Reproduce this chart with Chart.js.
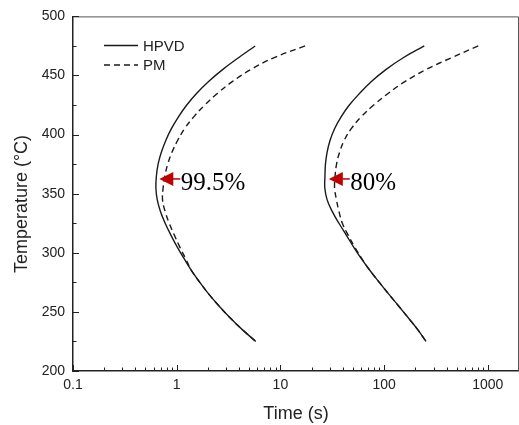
<!DOCTYPE html>
<html>
<head>
<meta charset="utf-8">
<script src="https://cdn.jsdelivr.net/npm/chart.js@4.4.0/dist/chart.umd.min.js"></script>
<style>
  body { margin: 0; background: #fff; }
</style>
</head>
<body>
<canvas id="chart" width="519" height="425"></canvas>
<script>
// temperature grid shared by all four curves (°C)
const temps = [475, 465, 455, 445, 435, 425, 415, 405, 395, 385, 375, 365, 355,
               345, 335, 325, 315, 305, 295, 285, 275, 265, 255, 245, 235, 225];

// times (s) at each temperature
const hpvdFast = [5.71, 3.94, 2.77, 2.03, 1.56, 1.25, 1.04, 0.889, 0.785, 0.711, 0.662, 0.637, 0.630,
                  0.649, 0.697, 0.774, 0.879, 1.01, 1.18, 1.39, 1.67, 2.04, 2.56, 3.27, 4.29, 5.79];
const pmFast   = [17.3, 8.63, 5.18, 3.46, 2.48, 1.86, 1.46, 1.19, 1.02, 0.90, 0.82, 0.769, 0.74,
                  0.73, 0.773, 0.847, 0.948, 1.07, 1.22, 1.39, 1.67, 2.04, 2.56, 3.27, 4.29, 5.79];
const hpvdSlow = [244, 153, 104, 75.5, 58.2, 46.2, 38.5, 33.3, 30.1, 28.2, 27.2, 26.9, 26.8,
                  28.2, 31.6, 36.7, 43.2, 50.7, 60.3, 73.1, 89.9, 111, 138, 171, 211, 254];
const pmSlow   = [809, 445, 253, 160, 110, 79.4, 60.0, 48.2, 41.2, 37.2, 34.8, 33.7, 33.3,
                  34.7, 36.7, 39.6, 45.0, 52.0, 61.0, 73.1, 89.9, 111, 138, 171, 211, 254];

const seriesNames = ['HPVD', 'PM'];
const xTickValues = [0.1, 1, 10, 100, 1000];
const xTickLabels = ['0.1', '1', '10', '100', '1000'];
const yTitle = 'Temperature (°C)';

// red arrow marks at the nose of each C-curve
const markTimes = [0.68, 29.3];
const markTemps = [362.5, 362.5];
const markLabels = ['99.5%', '80%'];

const sans = '"Liberation Sans", Arial, sans-serif';
const ink = '#1a1a1a';
const dash = [6, 4];

function pairs(times) {
    return times.map((t, i) => ({ x: t, y: temps[i] }));
}

function line(label, times, dashed) {
    return {
        label: label,
        data: pairs(times),
        showLine: true,
        pointRadius: 0,
        borderColor: ink,
        borderWidth: 1.4,
        borderDash: dashed ? dash : [],
        tension: 0.4,
        fill: false
    };
}

const extras = {
    id: 'extras',
    afterDraw(chart) {
        const ctx = chart.ctx;
        const a = chart.chartArea;
        const xs = chart.scales.x;
        const ys = chart.scales.y;
        ctx.save();

        // top and right frame
        ctx.strokeStyle = '#555';
        ctx.lineWidth = 1;
        ctx.beginPath();
        ctx.moveTo(a.left, a.top + 0.5);
        ctx.lineTo(a.right - 0.5, a.top + 0.5);
        ctx.lineTo(a.right - 0.5, a.bottom);
        ctx.stroke();

        // inward ticks
        ctx.strokeStyle = '#222';
        ctx.lineWidth = 1;
        ctx.beginPath();
        for (let v = 200; v <= 500; v += 25) {
            const y = Math.round(ys.getPixelForValue(v)) + 0.5;
            const len = v % 50 === 0 ? 6 : 3.5;
            ctx.moveTo(a.left, y);
            ctx.lineTo(a.left + len, y);
        }
        for (let d = 0.1; d < 2000; d *= 10) {
            for (let k = 1; k <= 9; k++) {
                const v = d * k;
                if (v > 2000) break;
                const x = Math.round(xs.getPixelForValue(v)) + 0.5;
                const len = k === 1 ? 6 : 3.5;
                ctx.moveTo(x, a.bottom);
                ctx.lineTo(x, a.bottom - len);
            }
        }
        ctx.stroke();

        // y axis title
        ctx.fillStyle = '#222';
        ctx.font = '18px ' + sans;
        ctx.textAlign = 'center';
        ctx.textBaseline = 'middle';
        ctx.translate(22.5, 204);
        ctx.rotate(-Math.PI / 2);
        ctx.fillText(yTitle, 0, 0);
        ctx.setTransform(1, 0, 0, 1, 0, 0);
        ctx.textAlign = 'left';

        // legend
        ctx.strokeStyle = ink;
        ctx.lineWidth = 1.4;
        ctx.font = '15px ' + sans;
        seriesNames.forEach((name, i) => {
            const y = 45.5 + i * 19.5;
            ctx.setLineDash(i === 1 ? dash : []);
            ctx.beginPath();
            ctx.moveTo(104, y);
            ctx.lineTo(138, y);
            ctx.stroke();
            ctx.fillText(name, 143, y + 1);
        });
        ctx.setLineDash([]);

        // arrows and percentages
        markTimes.forEach((t, i) => {
            const px = xs.getPixelForValue(t);
            const py = ys.getPixelForValue(markTemps[i]);
            ctx.fillStyle = '#c00000';
            ctx.beginPath();
            ctx.moveTo(px, py);
            ctx.lineTo(px + 14, py - 7);
            ctx.lineTo(px + 14, py + 7);
            ctx.closePath();
            ctx.fill();
            ctx.strokeStyle = '#c00000';
            ctx.lineWidth = 1.5;
            ctx.beginPath();
            ctx.moveTo(px + 13, py);
            ctx.lineTo(px + 21, py);
            ctx.stroke();
            ctx.fillStyle = '#000';
            ctx.font = '25px "Liberation Serif", "Times New Roman", serif';
            ctx.textBaseline = 'alphabetic';
            ctx.fillText(markLabels[i], px + 21.5, py + 11.5);
        });
        ctx.restore();
    }
};

new Chart(document.getElementById('chart'), {
    type: 'scatter',
    data: {
        datasets: [
            line('HPVD', hpvdFast, false),
            line('PM', pmFast, true),
            line('HPVD', hpvdSlow, false),
            line('PM', pmSlow, true)
        ]
    },
    options: {
        responsive: false,
        animation: false,
        layout: { padding: { top: 12, right: 0, left: 0, bottom: 0 } },
        plugins: { legend: { display: false }, tooltip: { enabled: false } },
        scales: {
            x: {
                type: 'logarithmic',
                min: 0.1,
                max: 2000,
                afterBuildTicks: scale => { scale.ticks = xTickValues.map(v => ({ value: v })); },
                afterFit: scale => { scale.height = 54; },
                grid: { display: false, drawTicks: false },
                border: { display: true, color: '#222', width: 1.5 },
                ticks: {
                    padding: 6,
                    color: '#222',
                    font: { size: 14, family: sans },
                    maxRotation: 0,
                    autoSkip: false,
                    callback: value => {
                        const i = xTickValues.indexOf(value);
                        return i >= 0 ? xTickLabels[i] : '';
                    }
                },
                title: {
                    display: true,
                    text: 'Time (s)',
                    color: '#222',
                    font: { size: 18, family: sans },
                    padding: { top: 0, bottom: 0 }
                }
            },
            y: {
                min: 200,
                max: 500,
                afterFit: scale => { scale.width = 73; },
                grid: { display: false, drawTicks: false },
                border: { display: true, color: '#222', width: 1.5 },
                ticks: {
                    stepSize: 50,
                    padding: 8,
                    color: '#222',
                    font: { size: 14, family: sans }
                },
                title: { display: false }
            }
        }
    },
    plugins: [extras]
});
</script>
</body>
</html>
